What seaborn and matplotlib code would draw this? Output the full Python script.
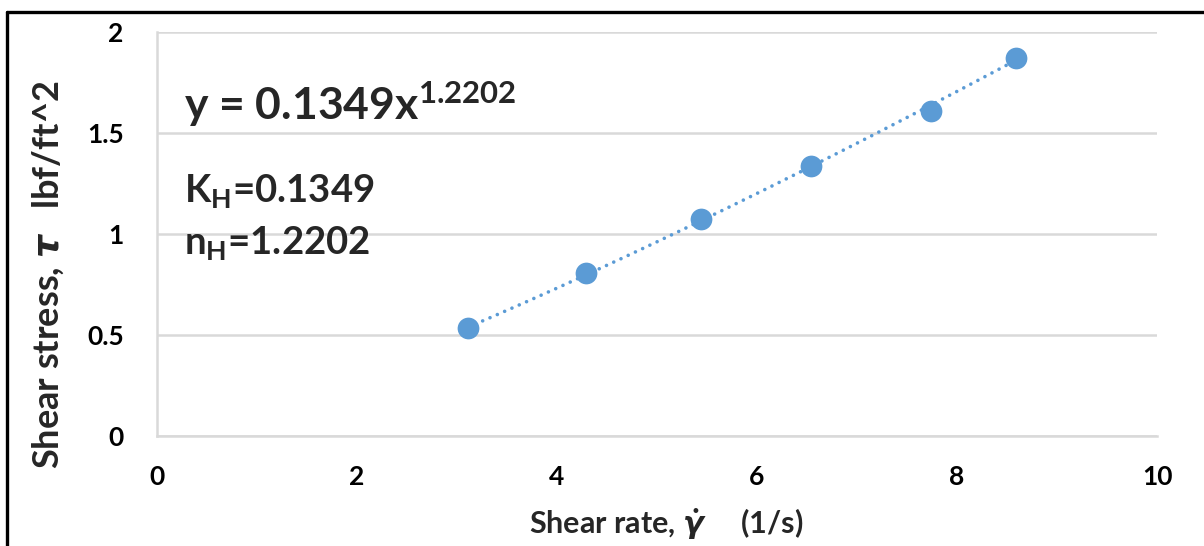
import numpy as np
import pandas as pd
import matplotlib
matplotlib.use("Agg")
import matplotlib.pyplot as plt
from matplotlib.lines import Line2D
import seaborn as sns

# ---- data ----
shear_rate = [3.11, 4.29, 5.44, 6.54, 7.74, 8.59]
shear_stress = [0.537, 0.807, 1.074, 1.338, 1.609, 1.873]
K_H = 0.1349
n_H = 1.2202
x_ticks = [0, 2, 4, 6, 8, 10]
x_tick_labels = ["0", "2", "4", "6", "8", "10"]
y_ticks = [0, 0.5, 1, 1.5, 2]
y_tick_labels = ["0", "0.5", "1", "1.5", "2"]

sns.set_theme(style="white")
plt.rcParams["font.family"] = ["Lato", "DejaVu Sans"]
plt.rcParams["font.weight"] = "bold"
plt.rcParams["mathtext.fontset"] = "custom"
plt.rcParams["mathtext.rm"] = "Lato:bold"
plt.rcParams["mathtext.bf"] = "Lato:bold"
plt.rcParams["mathtext.it"] = "Lato:bold"
plt.rcParams["mathtext.bfit"] = "DejaVu Sans:italic:bold"

blue = "#5B9BD5"
grid_c = "#D9D9D9"

fig = plt.figure(figsize=(12.04, 5.46), dpi=100)
ax = fig.add_axes([157 / 1204, 1 - 436 / 546, 1000 / 1204, 404 / 546])

df = pd.DataFrame({"rate": shear_rate, "stress": shear_stress})
xs = np.linspace(min(shear_rate), max(shear_rate), 200)
trend = pd.DataFrame({"rate": xs, "stress": K_H * xs ** n_H})

sns.lineplot(data=trend, x="rate", y="stress", ax=ax, color=blue,
             linewidth=2.6, linestyle=(0, (0.01, 2.2)), dash_capstyle="round",
             zorder=3)
sns.scatterplot(data=df, x="rate", y="stress", ax=ax, color=blue, s=245,
                edgecolor=blue, linewidth=0, zorder=4)

ax.set_xlim(0, 10)
ax.set_ylim(0, 2)
ax.set_xticks(x_ticks, labels=x_tick_labels, fontsize=19, fontweight="bold",
              family="Lato")
ax.set_yticks(y_ticks, labels=y_tick_labels, fontsize=19, fontweight="bold",
              family="Lato")
ax.grid(axis="y", color=grid_c, linewidth=1.8)
ax.grid(axis="x", visible=False)
ax.set_axisbelow(True)
for s in ["top", "right"]:
    ax.spines[s].set_visible(False)
for s in ["left", "bottom"]:
    ax.spines[s].set_color(grid_c)
    ax.spines[s].set_linewidth(1.8)
ax.tick_params(axis="both", length=0, colors="black")
ax.tick_params(axis="x", pad=21)
ax.tick_params(axis="y", pad=24)

ax.set_xlabel(r"Shear rate, $\dot{\boldsymbol{\gamma}}$     (1/s)", fontsize=22,
              fontweight="bold", family="Lato")
ax.xaxis.set_label_coords((666 - 157) / 1000, (436 - 506) / 404)
ax.set_ylabel(r"Shear stress, $\boldsymbol{\tau}$   lbf/ft^2", fontsize=26,
              fontweight="bold", family="Lato")
ax.yaxis.set_label_coords((66 - 157) / 1000, (436 - 275) / 404)

ax.text(0.27, 1.64, r"y = 0.1349x$^{1.2202}$", fontsize=32,
        va="center", ha="left", fontweight="bold", family="Lato")
ax.text(0.27, 1.215, r"K$_{\mathrm{H}}$=0.1349", fontsize=27.5, va="center",
        ha="left", fontweight="bold", family="Lato")
ax.text(0.27, 0.955, r"n$_{\mathrm{H}}$=1.2202", fontsize=27.5, va="center",
        ha="left", fontweight="bold", family="Lato")

# outer frame (left and top edges visible)
lx = 7 / 1204
ty = 1 - 12 / 546
fig.add_artist(Line2D([lx, lx], [0, ty], color="black", linewidth=2.4,
                      transform=fig.transFigure))
fig.add_artist(Line2D([lx, 1], [ty, ty], color="black", linewidth=2.4,
                      transform=fig.transFigure))

fig.savefig("out.png", dpi=100)
